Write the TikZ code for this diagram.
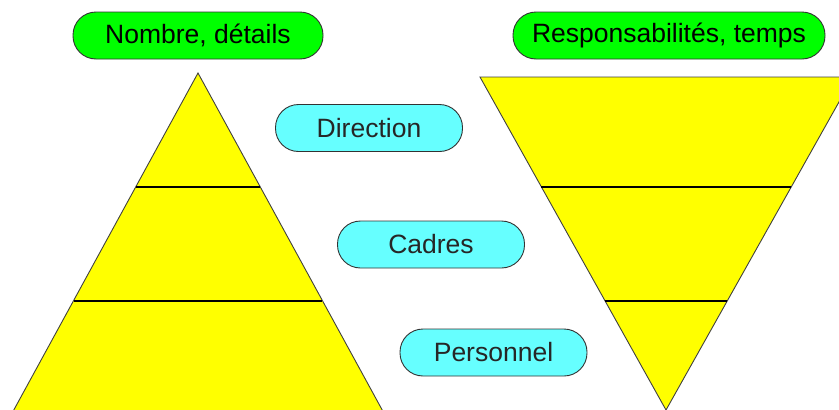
\documentclass[tikz,border=0pt]{standalone}
\usepackage{fontspec}
\setmainfont{Liberation Sans}
\usepackage{tikz}
\usetikzlibrary{positioning}
\definecolor{pyrayellow}{RGB}{255,255,0}
\definecolor{titlegreen}{RGB}{0,255,0}
\definecolor{levelcyan}{RGB}{102,255,255}
\tikzstyle{title} = [draw=black!80, fill=titlegreen, rounded corners=23pt,
    minimum height=47pt, line width=0.9pt, font=\fontsize{26.5}{31}\selectfont]
\tikzstyle{level} = [draw=black!80, fill=levelcyan, rounded corners=23pt,
    minimum width=187pt, minimum height=47pt, line width=0.9pt,
    font=\fontsize{26.5}{31}\selectfont, text=black!85]
\tikzstyle{pyra} = [draw=black!75, fill=pyrayellow, line width=0.9pt]

\begin{document}
\begin{tikzpicture}[x=1pt, y=-1pt]
  \useasboundingbox (0,0) rectangle (839,410);
  \clip (0,0) rectangle (839,410);
  % pyramids
  \draw [pyra] (198,73) -- (10.5,416) -- (385.5,416) -- cycle;
  \draw [pyra] (480,77) -- (853,77) -- (666,410) -- cycle;
  \draw [line width=1.4pt] (136,187) -- (260,187);
  \draw [line width=1.4pt] (74,301) -- (322,301);
  \draw [line width=1.4pt] (541,187) -- (791,187);
  \draw [line width=1.4pt] (605,301) -- (727,301);
  % titles
  \node [title, minimum width=250pt] (nombre) at (198,35.5) {Nombre, détails};
  \node [title, minimum width=312pt] (resp) at (669,35.5) {Responsabilités, temps};
  % levels
  \node [level] (direction) at (369,128) {Direction};
  \node [level] (cadres) at (431,244.5) {Cadres};
  \node [level] (personnel) at (493.5,352.5) {Personnel};
\end{tikzpicture}
\end{document}
